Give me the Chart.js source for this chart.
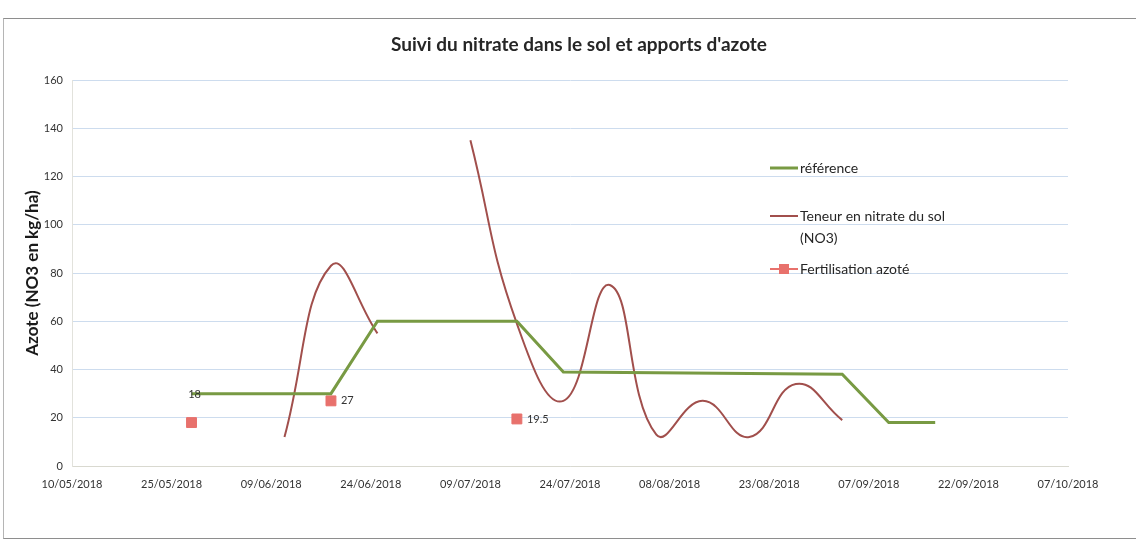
<!DOCTYPE html>
<html lang="fr">
<head>
  <meta charset="UTF-8">
  <title>Suivi du nitrate dans le sol</title>
  <script src="https://cdn.jsdelivr.net/npm/chart.js"></script>
  <style>
    body {
      margin: 0;
      background: #fff;
    }
    .wrap {
      position: relative;
      width: 1136px;
      height: 540px;
      overflow: hidden;
    }
    .frame {
      position: absolute;
      left: 3px;
      top: 18px;
      width: 1140px;
      height: 519px;
      border: 1px solid #8e8e8e;
      border-left-color: #b5b5b5;
    }
    canvas {
      position: absolute;
      left: 0;
      top: 0;
    }
  </style>
</head>
<body>
  <div class="wrap">
    <div class="frame"></div>
    <canvas id="chart" width="1136" height="540"></canvas>
  </div>

  <script>
    // axe des dates (pas de 15 jours)
    const startDate = '10/05/2018';
    const tickDates = ['10/05/2018', '25/05/2018', '09/06/2018', '24/06/2018', '09/07/2018', '24/07/2018',
                       '08/08/2018', '23/08/2018', '07/09/2018', '22/09/2018', '07/10/2018'];
    const yTicks = [0, 20, 40, 60, 80, 100, 120, 140, 160];

    // référence
    const refDates = ['28/05/2018', '18/06/2018', '25/06/2018', '16/07/2018', '23/07/2018',
                      '03/09/2018', '10/09/2018', '17/09/2018'];
    const refValues = [30, 30, 60, 60, 39, 38, 18, 18];

    // teneur en nitrate du sol (NO3), mesure hebdo - pas de mesure le 02/07
    const no3Dates = ['11/06/2018', '18/06/2018', '25/06/2018', '02/07/2018', '09/07/2018', '16/07/2018',
                      '23/07/2018', '30/07/2018', '06/08/2018', '13/08/2018', '20/08/2018', '27/08/2018',
                      '03/09/2018'];
    const no3Values = [12, 83, 55, null, 135, 59, 27, 75, 13, 27, 12, 34, 19];

    // fertilisation azotée
    const fertDates = ['28/05/2018', '18/06/2018', '16/07/2018'];
    const fertValues = [18, 27, 19.5];
    const fertLabels = ['18', '27', '19.5'];

    const chartTitle = "Suivi du nitrate dans le sol et apports d'azote";

    function toDay(str) {
      const p = str.split('/');
      const s = startDate.split('/');
      const d = Date.UTC(+p[2], +p[1] - 1, +p[0]);
      const d0 = Date.UTC(+s[2], +s[1] - 1, +s[0]);
      return Math.round((d - d0) / 86400000);
    }

    function points(dates, values) {
      return dates.map((d, i) => ({ x: toDay(d), y: values[i] }));
    }

    const FONT = 'Lato, "Open Sans", sans-serif';
    const GREEN = '#789a43';
    const BROWN = '#a14f4c';
    const RED = '#e8716c';

    // titre, légende à droite + étiquettes des apports
    const extras = {
      id: 'extras',
      afterDatasetsDraw(chart) {
        const ctx = chart.ctx;
        const meta = chart.getDatasetMeta(2);
        ctx.save();

        ctx.font = 'bold 19px ' + FONT;
        ctx.fillStyle = '#262626';
        ctx.textAlign = 'center';
        ctx.textBaseline = 'middle';
        ctx.fillText(chartTitle, 579, 45);

        ctx.font = '11px ' + FONT;
        ctx.fillStyle = '#333';
        meta.data.forEach((pt, i) => {
          if (i === 0) {
            ctx.textAlign = 'center';
            ctx.fillText(fertLabels[i], pt.x + 3, pt.y - 28);
          } else {
            ctx.textAlign = 'left';
            ctx.fillText(fertLabels[i], pt.x + 10, pt.y);
          }
        });

        const lx = chart.chartArea.left + 698;
        const items = [
          { y: 168, color: GREEN, width: 3, text: ['référence'] },
          { y: 216, color: BROWN, width: 2, text: ['Teneur en nitrate du sol', '(NO3)'] },
          { y: 269, color: RED, width: 2, text: ['Fertilisation azoté'], marker: true }
        ];
        ctx.font = '14px ' + FONT;
        ctx.fillStyle = '#262626';
        ctx.textAlign = 'left';
        items.forEach(it => {
          ctx.strokeStyle = it.color;
          ctx.lineWidth = it.width;
          ctx.beginPath();
          ctx.moveTo(lx, it.y);
          ctx.lineTo(lx + 28, it.y);
          ctx.stroke();
          if (it.marker) {
            ctx.fillStyle = RED;
            ctx.fillRect(lx + 9, it.y - 5, 10, 10);
            ctx.fillStyle = '#262626';
          }
          it.text.forEach((t, k) => ctx.fillText(t, lx + 30, it.y + k * 22));
        });
        ctx.restore();
      }
    };

    new Chart(document.getElementById('chart'), {
      type: 'line',
      data: {
        datasets: [
          {
            label: 'référence',
            data: points(refDates, refValues),
            borderColor: GREEN,
            borderWidth: 3,
            pointRadius: 0,
            tension: 0
          },
          {
            label: 'Teneur en nitrate du sol (NO3)',
            data: points(no3Dates, no3Values),
            borderColor: BROWN,
            borderWidth: 2,
            pointRadius: 0,
            tension: 0.45,
            spanGaps: false
          },
          {
            label: 'Fertilisation azoté',
            data: points(fertDates, fertValues),
            showLine: false,
            pointStyle: 'rect',
            pointRadius: 7,
            pointBackgroundColor: RED,
            pointBorderColor: RED,
            borderColor: RED
          }
        ]
      },
      options: {
        responsive: false,
        animation: false,
        layout: { padding: { left: 12, top: 80, right: 68, bottom: 0 } },
        plugins: {
          legend: { display: false },
          tooltip: { enabled: false },
          title: { display: false }
        },
        scales: {
          x: {
            type: 'linear',
            min: toDay(tickDates[0]),
            max: toDay(tickDates[tickDates.length - 1]),
            afterBuildTicks(scale) {
              scale.ticks = tickDates.map(d => ({ value: toDay(d) }));
            },
            afterFit(scale) { scale.height = 74; },
            grid: { display: false, drawTicks: false },
            border: { color: '#d9d9d0', width: 1 },
            ticks: {
              autoSkip: false,
              maxRotation: 0,
              padding: 12,
              color: '#333',
              font: { family: FONT, size: 11 },
              callback: (v) => tickDates.find(d => toDay(d) === v) || ''
            }
          },
          y: {
            min: yTicks[0],
            max: yTicks[yTicks.length - 1],
            afterBuildTicks(scale) {
              scale.ticks = yTicks.map(v => ({ value: v }));
            },
            afterFit(scale) { scale.width = 60; },
            grid: { color: '#cddcee', lineWidth: 1, drawTicks: false },
            border: { color: '#e2e2dc', width: 1 },
            ticks: {
              padding: 9,
              color: '#333',
              font: { family: FONT, size: 11 }
            },
            title: {
              display: true,
              text: 'Azote (NO3 en kg/ha)',
              color: '#1a1a1a',
              font: { family: FONT, size: 17, weight: 'bold' },
              padding: { top: 10, bottom: 0 }
            }
          }
        }
      },
      plugins: [extras]
    });
  </script>
</body>
</html>
